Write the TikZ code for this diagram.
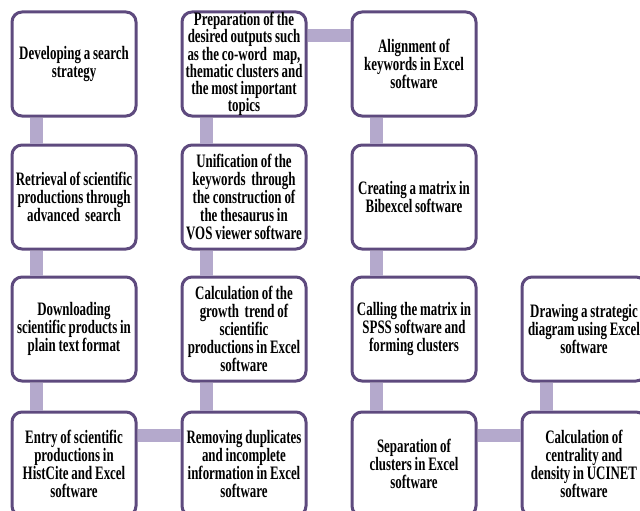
\documentclass[tikz,border=0pt]{standalone}
\usepackage{fontspec}
\setmainfont{Liberation Serif}[FakeStretch=0.68]
\usetikzlibrary{positioning}
\definecolor{boxline}{HTML}{5E4A7E}
\definecolor{barfill}{HTML}{B4A9CC}
\newcommand{\stagefont}[1]{\bfseries\fontsize{19}{#1}\selectfont\spaceskip=0.15em plus 0.02em}

\begin{document}
\begin{tikzpicture}[x=1pt, y=-1pt,
    stage/.style={draw=boxline, line width=3pt, fill=white, rounded corners=10pt,
      minimum width=124pt, minimum height=104pt, align=center,
      inner sep=1pt, font=\stagefont{18}},
    bar/.style={draw=barfill, line width=13pt}]
    % frame
    \useasboundingbox (0,0) rectangle (640,511);
    \clip (0,0) rectangle (640,511);
    \fill[white] (0,0) rectangle (640,511);

    % first column
    \node[stage] (c1r1) at (74,64) {Developing a search\\strategy};
    \node[stage] (c1r2) at (74,197) {Retrieval of scientific\\productions through\\advanced~ search};
    \node[stage] (c1r3) at (74,329) {Downloading\\scientific products in\\plain text format};
    \node[stage] (c1r4) at (74,464) {Entry of scientific\\productions in\\HistCite and Excel\\software};

    % second column
    \node[stage, inner ysep=0pt, font=\stagefont{17.3}] (c2r1) at (244,64)
      {Preparation of the\\desired outputs such\\as the co-word~ map,\\thematic clusters and\\the most important\\topics};
    \node[stage] (c2r2) at (244,197) {Unification of the\\keywords~ through\\the construction of\\the thesaurus in\\VOS viewer software};
    \node[stage] (c2r3) at (244,329) {Calculation of the\\growth~ trend of\\scientific\\productions in Excel\\software};
    \node[stage] (c2r4) at (244,464) {Removing duplicates\\and incomplete\\information in Excel\\software};

    % third column
    \node[stage] (c3r1) at (414,64) {Alignment of\\keywords in Excel\\software};
    \node[stage] (c3r2) at (414,197) {Creating a matrix in\\Bibexcel software};
    \node[stage] (c3r3) at (414,329) {Calling the matrix in\\SPSS software and\\forming clusters};
    \node[stage] (c3r4) at (414,464) {Separation of\\clusters in Excel\\software};

    % fourth column
    \node[stage] (c4r3) at (584,329) {Drawing a strategic\\diagram using Excel\\software};
    \node[stage] (c4r4) at (584,464) {Calculation of\\centrality and\\density in UCINET\\software};

    % vertical bars
    \foreach \a/\b in {c1r1/c1r2, c1r2/c1r3, c1r3/c1r4, c2r1/c2r2, c2r2/c2r3,
      c2r3/c2r4, c3r1/c3r2, c3r2/c3r3, c3r3/c3r4, c4r3/c4r4}
      \draw[bar] ([xshift=26pt]\a.south west) -- ([xshift=26pt]\b.north west);

    % horizontal bars
    \foreach \a/\b in {c1r4/c2r4, c2r1/c3r1, c3r4/c4r4}{
      \coordinate (hb) at ([yshift=-25pt]\b.north west);
      \draw[bar] (\a.east |- hb) -- (hb);
    }
\end{tikzpicture}
\end{document}
